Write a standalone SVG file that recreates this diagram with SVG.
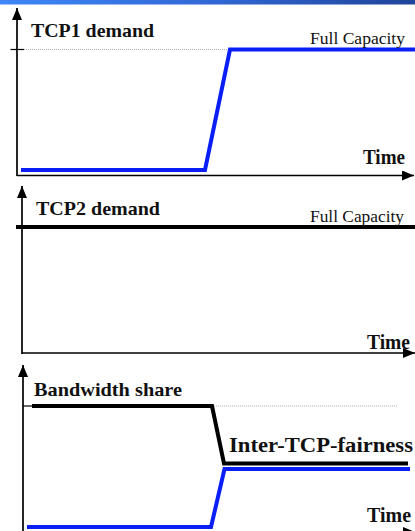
<svg xmlns="http://www.w3.org/2000/svg" width="415" height="531" viewBox="0 0 415 531">
  <defs>
    <linearGradient id="band" x1="0" y1="0" x2="1" y2="0">
      <stop offset="0" stop-color="#3f86f6"/>
      <stop offset="0.5" stop-color="#3168d6"/>
      <stop offset="1" stop-color="#20449a"/>
    </linearGradient>
    <marker id="head" viewBox="0 0 12 10" refX="12" refY="5" markerWidth="12" markerHeight="10" markerUnits="userSpaceOnUse" orient="auto">
      <path d="M0,0 L12,5 L0,10 Z" fill="#000"/>
    </marker>
  </defs>
  <style>
    .axis { stroke: #000; stroke-width: 1.7; fill: none; }
    .tick { stroke: #000; stroke-width: 1.2; fill: none; }
    .ref { stroke: #9a9a9a; stroke-width: 0.8; stroke-dasharray: 1 1; fill: none; }
    .blue { stroke: #0a1ff5; stroke-width: 4; fill: none; stroke-linejoin: miter; }
    .black { stroke: #000; stroke-width: 4; fill: none; stroke-linejoin: miter; }
    .title { font-family: "Liberation Serif", "Times New Roman", serif; font-weight: bold; fill: #111; }
    .cap { font-family: "Liberation Serif", "Times New Roman", serif; font-size: 17px; fill: #111; }
  </style>

  <!-- header band -->
  <rect x="0" y="0" width="415" height="4.5" fill="url(#band)"/>

  <!-- panel 1: TCP1 demand -->
  <g id="tcp1">
    <line class="axis" x1="17" y1="176" x2="17" y2="8" marker-end="url(#head)"/>
    <line class="axis" x1="17" y1="175.5" x2="414" y2="175.5" marker-end="url(#head)"/>
    <line class="tick" x1="10.5" y1="49.5" x2="24" y2="49.5"/>
    <line class="ref" x1="24" y1="49.5" x2="230" y2="49.5"/>
    <polyline class="blue" points="21,170 205,170 230,49.5 415,49.5"/>
    <text class="title" x="31" y="37" font-size="19.5" textLength="123" lengthAdjust="spacingAndGlyphs">TCP1 demand</text>
    <text class="cap" x="310" y="44" textLength="95" lengthAdjust="spacingAndGlyphs">Full Capacity</text>
    <text class="title" x="363" y="164" font-size="20" textLength="42" lengthAdjust="spacingAndGlyphs">Time</text>
  </g>

  <!-- panel 2: TCP2 demand -->
  <g id="tcp2">
    <line class="axis" x1="22" y1="354" x2="22" y2="186" marker-end="url(#head)"/>
    <line class="axis" x1="22" y1="353" x2="415" y2="353" marker-end="url(#head)"/>
    <line class="black" x1="16" y1="227" x2="415" y2="227"/>
    <text class="title" x="36" y="215" font-size="19.5" textLength="124" lengthAdjust="spacingAndGlyphs">TCP2 demand</text>
    <text class="cap" x="310" y="222" textLength="94" lengthAdjust="spacingAndGlyphs">Full Capacity</text>
    <text class="title" x="367" y="349" font-size="20" textLength="43" lengthAdjust="spacingAndGlyphs">Time</text>
  </g>

  <!-- panel 3: bandwidth share -->
  <g id="share">
    <line class="axis" x1="23" y1="531" x2="23" y2="365" marker-end="url(#head)"/>
    <line class="axis" x1="23" y1="532" x2="415" y2="532" marker-end="url(#head)"/>
    <line class="tick" x1="23" y1="406" x2="32" y2="406"/>
    <line class="ref" x1="214" y1="406" x2="397" y2="406"/>
    <polyline class="black" points="32,406 212,406 224,463.5 408,463.5"/>
    <polyline class="blue" points="27,527 211,527 224.5,469 410,469"/>
    <text class="title" x="34" y="396" font-size="19" textLength="148" lengthAdjust="spacingAndGlyphs">Bandwidth share</text>
    <text class="title" x="229" y="452" font-size="22" textLength="184" lengthAdjust="spacingAndGlyphs">Inter-TCP-fairness</text>
    <text class="title" x="367" y="521.5" font-size="20" textLength="44" lengthAdjust="spacingAndGlyphs">Time</text>
  </g>
</svg>
